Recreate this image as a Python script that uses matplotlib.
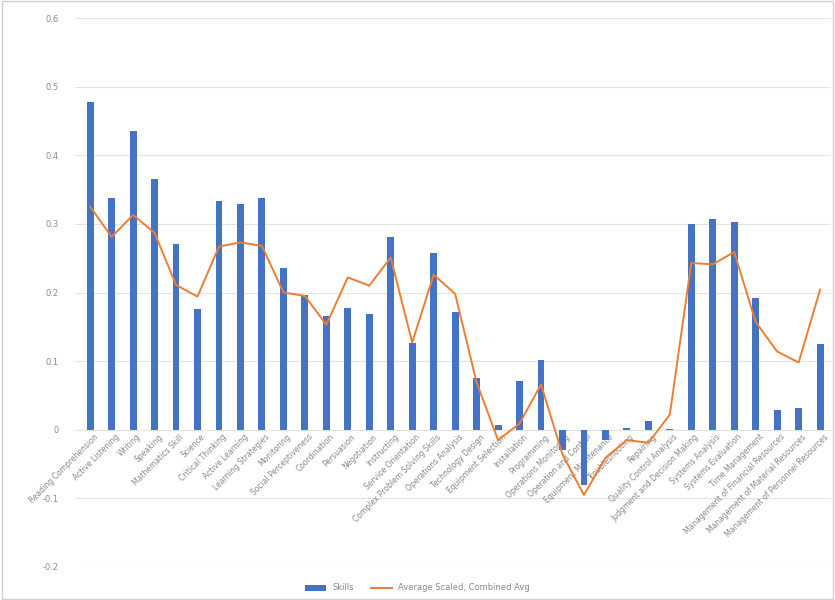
import matplotlib
matplotlib.use("Agg")
import matplotlib.pyplot as plt
import numpy as np

categories = [
    "Reading Comprehension", "Active Listening", "Writing", "Speaking",
    "Mathematics Skill", "Science", "Critical Thinking", "Active Learning",
    "Learning Strategies", "Monitoring", "Social Perceptiveness", "Coordination",
    "Persuasion", "Negotiation", "Instructing", "Service Orientation",
    "Complex Problem Solving Skills", "Operations Analysis", "Technology Design",
    "Equipment Selection", "Installation", "Programming", "Operations Monitoring",
    "Operation and Control", "Equipment Maintenance", "Troubleshooting",
    "Repairing", "Quality Control Analysis", "Judgment and Decision Making",
    "Systems Analysis", "Systems Evaluation", "Time Management",
    "Management of Financial Resources", "Management of Material Resources",
    "Management of Personnel Resources",
]

skills = [0.477, 0.337, 0.436, 0.366, 0.270, 0.176, 0.334, 0.329, 0.337, 0.235,
          0.197, 0.166, 0.178, 0.169, 0.281, 0.127, 0.258, 0.171, 0.076, 0.007,
          0.071, 0.101, -0.030, -0.080, -0.015, 0.003, 0.013, 0.001, 0.300,
          0.307, 0.303, 0.192, 0.029, 0.032, 0.125]

average = [0.325, 0.281, 0.313, 0.287, 0.211, 0.194, 0.267, 0.273, 0.268, 0.200,
           0.195, 0.153, 0.222, 0.210, 0.251, 0.127, 0.226, 0.198, 0.069, -0.015,
           0.009, 0.066, -0.036, -0.095, -0.041, -0.015, -0.019, 0.022, 0.243,
           0.241, 0.259, 0.157, 0.114, 0.098, 0.204]

yticks = [-0.2, -0.1, 0, 0.1, 0.2, 0.3, 0.4, 0.5, 0.6]
ytick_labels = ["-0.2", "-0.1", "0", "0.1", "0.2", "0.3", "0.4", "0.5", "0.6"]

series_names = ["Skills", "Average Scaled, Combined Avg"]

fig = plt.figure(figsize=(8.35, 6.0), dpi=100)
ax = fig.add_axes([0.09, 0.055, 0.905, 0.915])

x = np.arange(len(categories))
bars = ax.bar(x, skills, width=0.32, color="#4472C4", label=series_names[0], zorder=3)
line, = ax.plot(x, average, color="#ED7D31", linewidth=1.4, label=series_names[1], zorder=4)

ax.set_ylim(-0.2, 0.6)
ax.set_xlim(-0.7, len(categories) - 0.5)
ax.set_yticks(yticks)
ax.set_yticklabels(ytick_labels, fontsize=6, color="#888888")
ax.yaxis.grid(True, color="#e3e3e3", linewidth=0.8, zorder=0)
ax.set_xticks([])
ax.tick_params(axis="y", length=0, pad=12)
for s in ax.spines.values():
    s.set_visible(False)

for xi, lab in zip(x, categories):
    ax.text(xi + 0.15, -0.004, lab, rotation=45, ha="right", va="top",
            fontsize=5.5, color="#888888", rotation_mode="anchor", zorder=2)

fig.legend([bars, line], series_names, loc="lower center", bbox_to_anchor=(0.5, 0.0),
           ncol=2, frameon=False, fontsize=6, labelcolor="#888888", handlelength=2.5)

fig.patches.append(plt.Rectangle((0.002, 0.002), 0.996, 0.996, transform=fig.transFigure,
                                 fill=False, edgecolor="#d0d0d0", linewidth=1))

fig.savefig("out.png", dpi=100)
